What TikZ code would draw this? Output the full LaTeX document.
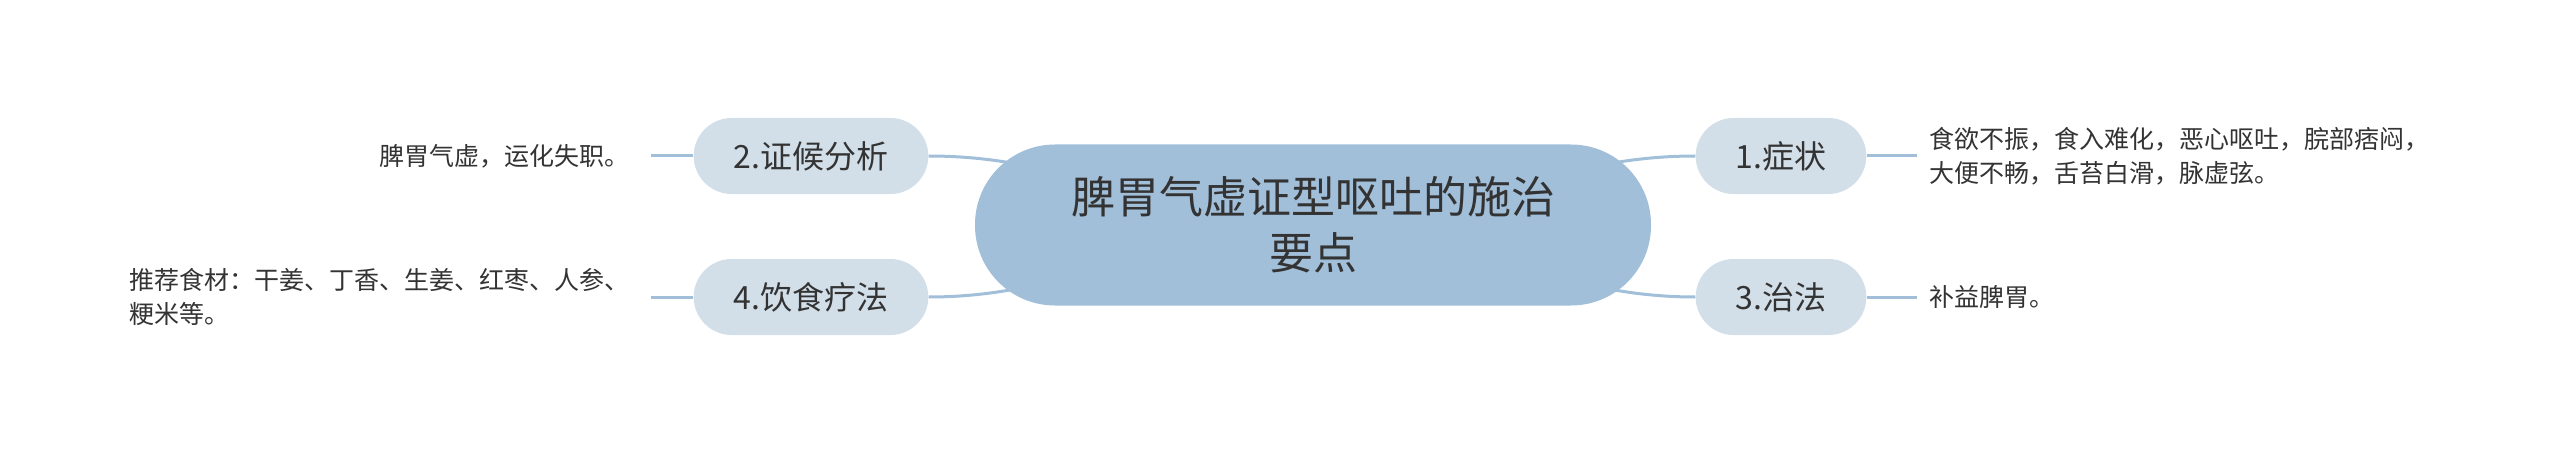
\documentclass[tikz,border=0pt]{standalone}
\usepackage{fontspec}
\setmainfont{Noto Sans CJK SC}
\usetikzlibrary{positioning, backgrounds}
\definecolor{colour_root}{HTML}{A2BFDA}
\definecolor{colour_topic}{HTML}{D2DFE9}
\definecolor{colour_link}{HTML}{A2BFDA}
\definecolor{colour_text}{HTML}{333333}

\begin{document}
\begin{tikzpicture}
   [
      x=0.5pt, y=-0.5pt,
      root/.style={rectangle, rounded corners=40pt, fill=colour_root, minimum width=338pt, minimum height=80.5pt, align=center, font=\fontsize{22}{28}\selectfont, text=colour_text},
      topic/.style={rectangle, rounded corners=19pt, fill=colour_topic, minimum height=38pt, inner xsep=20pt, font=\fontsize{16}{20}\selectfont, text=colour_text},
      leaf/.style={inner xsep=6pt, align=left, font=\fontsize{12.5}{17}\selectfont, text=colour_text},
      link/.style={line width=1.5pt, colour_link},
   ]
   \useasboundingbox (0,0) rectangle (2560,449);

   % =======================================================
   % Centre
   % =======================================================

   \node[root] (root) at (1313,225) {脾胃气虚证型呕吐的施治\\要点};

   % =======================================================
   % Topics
   % =======================================================

   \node[topic] (sym) at (1781,156) {1.症状};
   \node[topic] (cure) at (1781,297) {3.治法};
   \node[topic] (diag) at (811,156) {2.证候分析};
   \node[topic] (diet) at (811,297) {4.饮食疗法};

   % Leaves
   \node[leaf, right=25pt of sym] (sym_text) {食欲不振，食入难化，恶心呕吐，脘部痞闷，\\大便不畅，舌苔白滑，脉虚弦。};
   \node[leaf, right=25pt of cure] (cure_text) {补益脾胃。};
   \node[leaf, left=25.5pt of diag] (diag_text) {脾胃气虚，运化失职。};
   \node[leaf, left=25.5pt of diet] (diet_text) {推荐食材：干姜、丁香、生姜、红枣、人参、\\粳米等。};

   % =======================================================
   % Links
   % =======================================================

   \begin{scope}[on background layer]
      \draw[link] (root.center) to[out=0, in=180] (sym.west);
      \draw[link] (root.center) to[out=0, in=180] (cure.west);
      \draw[link] (root.center) to[out=180, in=0] (diag.east);
      \draw[link] (root.center) to[out=180, in=0] (diet.east);
   \end{scope}

   \draw[link] (sym.east) -- (sym_text.west);
   \draw[link] (cure.east) -- (cure_text.west);
   \draw[link, shorten >=4.5pt] (diag.west) -- (diag_text.east);
   \draw[link, shorten >=4.5pt] (diet.west) -- (diet_text.east);

\end{tikzpicture}
\end{document}
